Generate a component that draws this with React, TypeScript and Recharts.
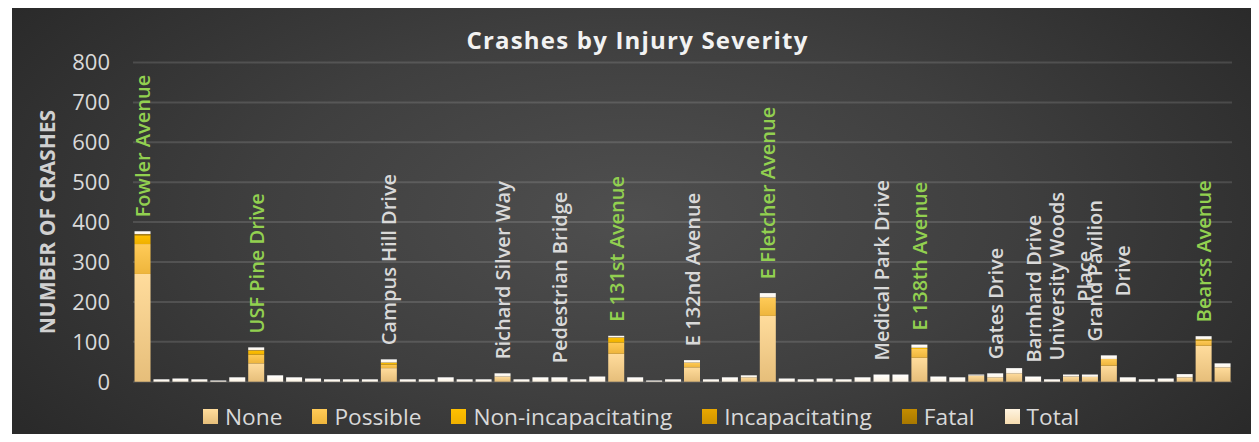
import React from "react";
import { BarChart, Bar, XAxis, YAxis, CartesianGrid, Legend, LabelList } from "recharts";

const FONT = "'Open Sans', 'Noto Sans', sans-serif";

// one entry per road segment, only the named ones carry a label
const ROADS = [
  "Fowler Avenue", "", "", "", "", "", "USF Pine Drive", "", "", "",
  "", "", "", "Campus Hill Drive", "", "", "", "", "", "Richard Silver Way",
  "", "", "Pedestrian Bridge", "", "", "E 131st Avenue", "", "", "", "E 132nd Avenue",
  "", "", "", "E Fletcher Avenue", "", "", "", "", "", "Medical Park Drive",
  "", "E 138th Avenue", "", "", "", "Gates Drive", "", "Barnhard Drive", "", "University Woods\nPlace",
  "", "Grand Pavilion\nDrive", "", "", "", "", "Bearss Avenue", "",
];

const HIGHLIGHTED = [
  "Fowler Avenue", "USF Pine Drive", "E 131st Avenue", "E Fletcher Avenue", "E 138th Avenue", "Bearss Avenue",
];

const NONE = [
  270, 0, 0, 0, 0, 0, 46, 0, 0, 0,
  0, 0, 0, 34, 0, 0, 0, 0, 0, 13,
  0, 0, 0, 0, 0, 70, 0, 0, 0, 36,
  0, 0, 11, 165, 0, 0, 0, 0, 0, 0,
  0, 60, 0, 0, 15, 11, 21, 0, 0, 13,
  12, 40, 0, 0, 0, 11, 90, 36,
];
const POSSIBLE = [
  75, 0, 0, 0, 0, 0, 22, 0, 0, 0,
  0, 0, 0, 9, 0, 0, 0, 0, 0, 0,
  0, 0, 0, 0, 0, 28, 0, 0, 0, 12,
  0, 0, 0, 46, 0, 0, 0, 0, 0, 0,
  0, 22, 0, 0, 0, 0, 0, 0, 0, 0,
  0, 17, 0, 0, 0, 0, 13, 0,
];
const NON_INCAPACITATING = [
  22, 0, 0, 0, 0, 0, 10, 0, 0, 0,
  0, 0, 0, 5, 0, 0, 0, 0, 0, 0,
  0, 0, 0, 0, 0, 12, 0, 0, 0, 0,
  0, 0, 0, 0, 0, 0, 0, 0, 0, 0,
  0, 3, 0, 0, 0, 0, 0, 0, 0, 0,
  0, 0, 0, 0, 0, 0, 3, 0,
];
const INCAPACITATING = [
  2, 0, 0, 0, 0, 0, 1, 0, 0, 0,
  0, 0, 0, 0, 0, 0, 0, 0, 0, 0,
  0, 0, 0, 0, 0, 1, 0, 0, 0, 0,
  0, 0, 0, 0, 0, 0, 0, 0, 0, 0,
  0, 0, 0, 0, 0, 0, 0, 0, 0, 0,
  0, 0, 0, 0, 0, 0, 0, 0,
];
const FATAL = [
  1, 0, 0, 0, 0, 0, 0, 0, 0, 0,
  0, 0, 0, 0, 0, 0, 0, 0, 0, 0,
  0, 0, 0, 0, 0, 0, 0, 0, 0, 0,
  0, 0, 0, 0, 0, 0, 0, 0, 0, 0,
  0, 0, 0, 0, 0, 0, 0, 0, 0, 0,
  0, 0, 0, 0, 0, 0, 0, 0,
];
// the white cap drawn on top of every column
const TOTAL = [
  7, 6, 8, 6, 3, 11, 7, 16, 11, 8,
  6, 6, 6, 8, 6, 6, 11, 6, 6, 8,
  6, 11, 11, 6, 13, 4, 11, 3, 6, 6,
  6, 11, 5, 11, 8, 6, 8, 6, 11, 18,
  18, 8, 13, 11, 3, 10, 13, 13, 6, 5,
  6, 9, 11, 6, 8, 8, 8, 10,
];

const Y_TICKS = [0, 100, 200, 300, 400, 500, 600, 700, 800];

const SERIES = [
  { key: "none", name: "None", top: "#ffdc9c", bottom: "#e6be7a" },
  { key: "possible", name: "Possible", top: "#ffcb58", bottom: "#eeb53c" },
  { key: "nonInc", name: "Non-incapacitating", top: "#ffc000", bottom: "#efb000" },
  { key: "incap", name: "Incapacitating", top: "#e9a800", bottom: "#d09400" },
  { key: "fatal", name: "Fatal", top: "#c48c00", bottom: "#a87800" },
  { key: "total", name: "Total", top: "#ffffff", bottom: "#fdf3e2" },
];
const LEGEND_SWATCH: Record<string, [string, string]> = {
  total: ["#fff4e0", "#f6dcb0"],
};

const data = ROADS.map((label, i) => ({
  id: i,
  label,
  none: NONE[i],
  possible: POSSIBLE[i],
  nonInc: NON_INCAPACITATING[i],
  incap: INCAPACITATING[i],
  fatal: FATAL[i],
  total: TOTAL[i],
}));

let ctx: CanvasRenderingContext2D | null = null;
function textWidth(s: string) {
  if (!ctx) ctx = document.createElement("canvas").getContext("2d");
  if (!ctx) return s.length * 10;
  ctx.font = `600 20px ${FONT}`;
  return ctx.measureText(s).width;
}

function RoadLabel(props: any) {
  const vb = props.viewBox || {};
  const x = Number(props.x ?? vb.x);
  const y = Number(props.y ?? vb.y);
  const w = Number(props.width ?? vb.width);
  const text = String(props.value ?? "");
  if (!text) return null;
  const lines = text.split("\n");
  const maxW = Math.max(...lines.map(textWidth));
  const cx = x + w / 2;
  const cy = y - 14 - maxW / 2;
  const color = HIGHLIGHTED.includes(text) ? "#92d050" : "#d9d9d9";
  return (
    <g>
      {lines.map((ln, i) => {
        const px = cx + (i - (lines.length - 1) / 2) * 28;
        return (
          <text
            key={i}
            x={px}
            y={cy}
            transform={`rotate(-90 ${px} ${cy})`}
            textAnchor="middle"
            dominantBaseline="central"
            fill={color}
            fontFamily={FONT}
            fontWeight={600}
            fontSize={20}
          >
            {ln}
          </text>
        );
      })}
    </g>
  );
}

function LegendBox() {
  return (
    <div style={{ display: "flex", alignItems: "center", gap: 30, whiteSpace: "nowrap", height: 30 }}>
      {SERIES.map((s) => {
        const [a, b] = LEGEND_SWATCH[s.key] || [s.top, s.bottom];
        return (
          <div key={s.key} style={{ display: "flex", alignItems: "center" }}>
            <span style={{ width: 15, height: 15, background: `linear-gradient(${a}, ${b})`, marginRight: 7 }} />
            <span style={{ fontFamily: FONT, fontSize: 22.7, color: "#d9d9d9" }}>{s.name}</span>
          </div>
        );
      })}
    </div>
  );
}

export default function App() {
  return (
    <div style={{ position: "relative", margin: -8, width: 1259, height: 442, background: "#fff", overflow: "hidden" }}>
      <div
        style={{
          position: "absolute",
          left: 12,
          top: 6,
          width: 1246,
          height: 436,
          background: "radial-gradient(ellipse 60% 85% at 50% 48%, #4f4f4f 0%, #3f3f3f 50%, #2a2a2a 100%)",
        }}
      />
      <div
        style={{
          position: "absolute",
          left: 0,
          top: 28,
          width: 1275,
          textAlign: "center",
          fontFamily: FONT,
          fontWeight: 700,
          fontSize: 24,
          lineHeight: "24px",
          letterSpacing: 1.2,
          color: "#f2f2f2",
        }}
      >
        Crashes by Injury Severity
      </div>
      <div style={{ position: "absolute", left: 0, top: 0 }}>
        <BarChart
          width={1259}
          height={442}
          data={data}
          margin={{ top: 62.5, right: 27, bottom: 60.3, left: 0 }}
          barCategoryGap="8%"
        >
          <defs>
            {SERIES.map((s) => (
              <linearGradient key={s.key} id={`g-${s.key}`} x1="0" y1="0" x2="0" y2="1">
                <stop offset="0%" stopColor={s.top} />
                <stop offset="100%" stopColor={s.bottom} />
              </linearGradient>
            ))}
          </defs>
          <CartesianGrid vertical={false} stroke="rgba(255,255,255,0.13)" strokeWidth={2} />
          <XAxis dataKey="id" hide />
          <YAxis
            width={133}
            domain={[0, 800]}
            ticks={Y_TICKS}
            axisLine={false}
            tickLine={false}
            tickSize={0}
            tickMargin={23}
            tick={{ fill: "#d9d9d9", fontSize: 22, fontFamily: FONT }}
            label={{
              value: "NUMBER OF CRASHES",
              angle: -90,
              position: "insideLeft",
              offset: 48,
              style: { textAnchor: "middle", fontFamily: FONT, fontWeight: 700, fontSize: 21, fill: "#d0d0d0" },
            }}
          />
          <Legend
            layout="horizontal"
            verticalAlign="middle"
            align="center"
            wrapperStyle={{ left: 203, top: 401, width: 1000 }}
            content={() => <LegendBox />}
          />
          {SERIES.map((s) => (
            <Bar key={s.key} dataKey={s.key} name={s.name} stackId="a" fill={`url(#g-${s.key})`} isAnimationActive={false}>
              {s.key === "total" && <LabelList dataKey="label" content={RoadLabel} />}
            </Bar>
          ))}
        </BarChart>
      </div>
    </div>
  );
}
